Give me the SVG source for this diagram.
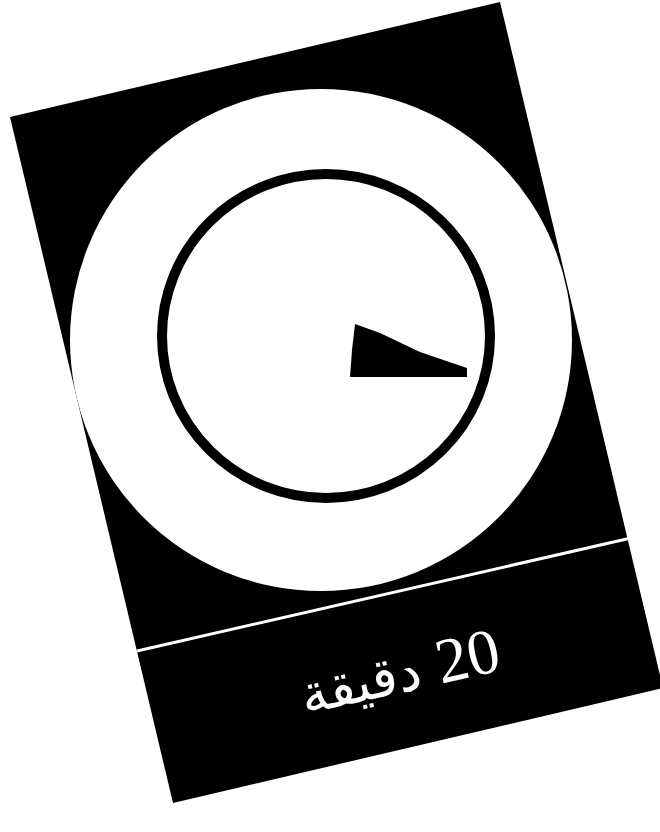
<svg xmlns="http://www.w3.org/2000/svg" width="660" height="832" viewBox="0 0 660 832">
<style>
  .card{fill:#000}
  .face{fill:#fff}
  .ring{fill:none;stroke:#000;stroke-width:10}
  .hand{fill:#000}
  .sep{fill:none;stroke:#fff;stroke-width:3}
  .lbl{fill:#fff;font-family:"DejaVu Sans",sans-serif;font-size:54px}
  .num{font-family:"Liberation Serif",serif;font-size:64px}
</style>
<rect width="660" height="832" fill="#fff"/>
<g id="card">
  <polygon class="card" points="10,117 500,2 663,688 173,803"/>
</g>
<g id="dial">
  <circle class="face" cx="321" cy="340" r="251"/>
  <ellipse class="ring" cx="326" cy="336" rx="164" ry="162"/>
  <polygon class="hand" points="355,324 380,333 420,352 467,368 467,377 350,377 352,350"/>
</g>
<g id="connectors">
  <path class="sep" d="M137,651 L631,538"/>
</g>
<g id="label">
  <text class="lbl" direction="rtl" text-anchor="middle" transform="translate(404,692) rotate(-12.6)"><tspan class="num">20</tspan> دقيقة</text>
</g>
</svg>
